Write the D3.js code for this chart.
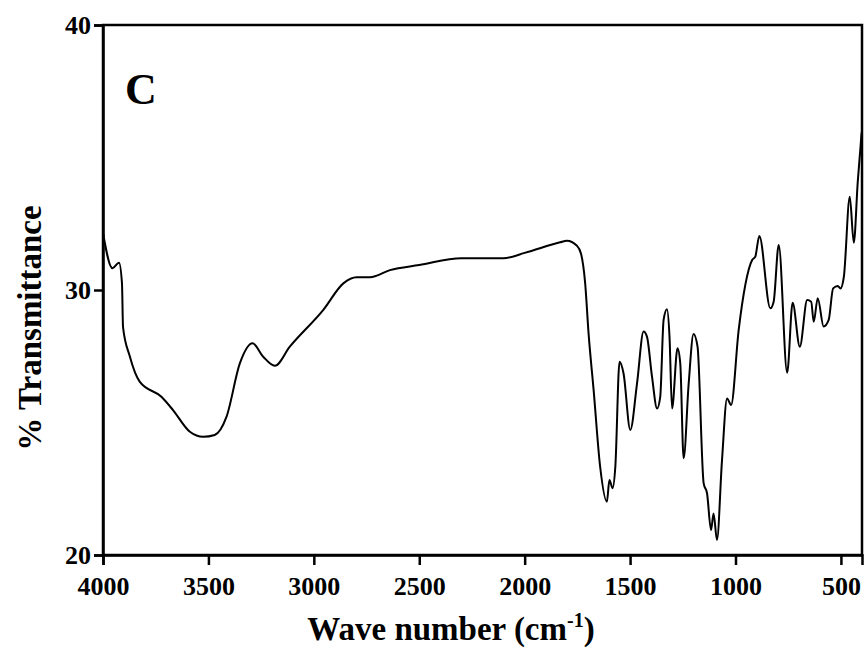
<!DOCTYPE html>
<html>
<head>
<meta charset="utf-8">
<script src="https://cdn.jsdelivr.net/npm/d3@7"></script>
<style>
  html, body { margin: 0; padding: 0; background: #fff; }
  svg { display: block; }
</style>
</head>
<body>
<script>
const wavenumber = [4000,3955,3924,3910,3905,3873,3826,3723,3668,3588,3525,3470,3414,3351,3291,3240,3185,3114,2955,2860,2797,2734,2639,2500,2300,2100,2000,1832,1800,1752,1733,1713,1697,1673,1642,1610,1598,1583,1570,1550,1531,1499,1467,1436,1420,1396,1372,1357,1341,1325,1313,1301,1275,1262,1246,1222,1199,1180,1151,1135,1116,1104,1088,1064,1040,1021,985,921,906,887,835,819,795,755,729,695,660,641,629,610,582,558,537,515,502,486,458,439,420,408,402,396];
const transmittance = [32.15,30.82,31.03,30.25,28.6,27.5,26.54,25.97,25.47,24.65,24.46,24.53,25.22,27.23,27.99,27.48,27.14,27.86,29.25,30.25,30.48,30.48,30.75,30.94,31.2,31.2,31.4,31.8,31.86,31.67,31.38,30.25,28.37,26.23,23.33,22.01,22.83,22.52,23.33,27.29,26.85,24.72,26.48,28.43,28.24,26.73,25.53,25.97,28.87,29.27,28.24,25.53,27.8,27.23,23.65,26.48,28.34,27.86,22.7,22.33,20.94,21.57,20.57,23.58,25.91,25.66,28.49,31.13,31.26,32.04,29.31,29.56,31.7,26.88,29.52,27.86,29.62,29.56,28.8,29.69,28.62,28.87,30.06,30.15,30.06,30.5,33.52,31.78,34.1,35.3,35.9,36.1];
const xTicks = [4000,3500,3000,2500,2000,1500,1000,500];
const yTicks = [20,30,40];
const panelLabel = "C";
const xTitle = "Wave number (cm";
const xTitleSup = "-1";
const yTitle = "% Transmittance";

const W = 867, H = 652;
const m = {left: 103, right: 862, top: 25, bottom: 555};
const serif = "'Liberation Serif','Times New Roman',serif";

const svg = d3.select("body").append("svg").attr("width", W).attr("height", H);

const x = d3.scaleLinear().domain([4000, 400]).range([m.left, m.right]);
const y = d3.scaleLinear().domain([20, 40]).range([m.bottom, m.top]);

svg.append("defs").append("clipPath").attr("id","clip")
  .append("rect").attr("x", m.left).attr("y", m.top)
  .attr("width", m.right - m.left).attr("height", m.bottom - m.top);

const data = wavenumber.map((w,i) => ({w, t: transmittance[i]}));
const line = d3.line().x(d => x(d.w)).y(d => y(d.t)).curve(d3.curveMonotoneX);

svg.append("path").datum(data)
  .attr("clip-path","url(#clip)")
  .attr("d", line).attr("fill","none").attr("stroke","#000")
  .attr("stroke-width", 2).attr("stroke-linejoin","round");

// frame
svg.append("rect").attr("x", m.left).attr("y", m.top)
  .attr("width", m.right - m.left).attr("height", m.bottom - m.top)
  .attr("fill","none").attr("stroke","#000").attr("stroke-width", 2.5);

// axes
const xAxis = svg.append("g").attr("transform", `translate(0,${m.bottom})`)
  .call(d3.axisBottom(x).tickValues(xTicks).tickSize(10).tickPadding(4).tickFormat(d3.format("d")));
const yAxis = svg.append("g").attr("transform", `translate(${m.left},0)`)
  .call(d3.axisLeft(y).tickValues(yTicks).tickSize(9).tickPadding(3).tickFormat(d3.format("d")));

[xAxis, yAxis].forEach(g => {
  g.select(".domain").attr("stroke","#000").attr("stroke-width", 2.5);
  g.selectAll(".tick line").attr("stroke","#000").attr("stroke-width", 2.5);
  g.selectAll(".tick text").attr("fill","#000")
    .style("font-family", serif).style("font-weight","bold").style("font-size","26px");
});
xAxis.selectAll(".tick text").attr("dy", null).attr("y", 40);
yAxis.selectAll(".tick text").attr("dy", "0.34em");

// panel label
svg.append("text").attr("x", 125).attr("y", 104)
  .style("font-family", serif).style("font-weight","bold").style("font-size","44px")
  .text(panelLabel);

// x title
const xt = svg.append("text").attr("x", 451).attr("y", 640).attr("text-anchor","middle")
  .style("font-family", serif).style("font-weight","bold").style("font-size","33px");
xt.append("tspan").text(xTitle);
xt.append("tspan").attr("dy", -13).style("font-size","20px").text(xTitleSup);
xt.append("tspan").attr("dy", 13).text(")");

// y title
svg.append("text").attr("transform", "translate(41,328) rotate(-90)")
  .attr("text-anchor","middle")
  .style("font-family", serif).style("font-weight","bold").style("font-size","33px")
  .text(yTitle);
</script>
</body>
</html>
